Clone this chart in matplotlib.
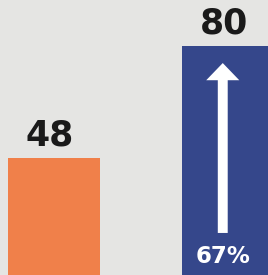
import matplotlib
matplotlib.use("Agg")
import matplotlib.pyplot as plt

categories = ["Before", "After"]
values = [48, 80]
colors = ["#f0804a", "#35478b"]
change_label = "67%"

fig = plt.figure(figsize=(2.68, 2.75), dpi=100)
bg = "#e5e5e3"
fig.patch.set_facecolor(bg)
ax = fig.add_axes([0, 0, 1, 1])
ax.set_facecolor(bg)

x = list(range(len(categories)))
ax.bar(x, values, width=0.53, color=colors)
ax.set_xlim(-0.31, 1.23)
ax.set_ylim(14.6, 93.1)
ax.axis("off")

for xi, v in zip(x, values):
    ax.text(xi - 0.025, v + 1.6, str(v), ha="center", va="bottom",
            fontsize=25, fontweight="bold", color="#1a1a1a", family="DejaVu Sans")

# growth arrow inside the second bar
tip = values[1] - 4.9
tail = 26.6
ax.arrow(x[1] - 0.03, tail, 0, tip - tail, width=0.057, head_width=0.19,
         head_length=4.9, length_includes_head=True, color="white", lw=0)
ax.text(x[1] - 0.03, 19.8, change_label, ha="center", va="center",
        fontsize=16.5, fontweight="bold", color="white", family="DejaVu Sans")

fig.savefig("out.png", dpi=100, facecolor=bg)
